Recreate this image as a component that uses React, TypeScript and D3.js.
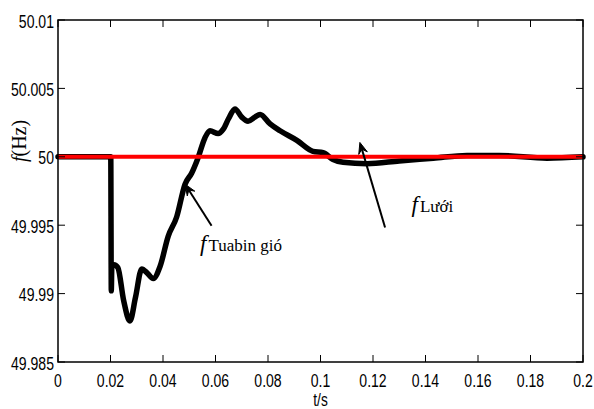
import React from "react";
import * as d3 from "d3";

// Wind-turbine frequency response after the disturbance at t = 0.02 s
const turbineTime = [
  0, 0.0201, 0.0203, 0.0205, 0.0213, 0.0228, 0.025, 0.0274, 0.0295, 0.0319,
  0.034, 0.0363, 0.0389, 0.042, 0.0452, 0.0484, 0.0509, 0.0533, 0.056, 0.0579,
  0.061, 0.0629, 0.065, 0.0674, 0.07, 0.0724, 0.075, 0.077, 0.0808, 0.0846,
  0.091, 0.0971, 0.101, 0.1048, 0.1086, 0.1177, 0.13, 0.143, 0.1558, 0.168,
  0.1863, 0.2,
];
const turbineFreq = [
  50, 50, 49.9902, 49.9919, 49.9921, 49.9919, 49.9895, 49.988, 49.9897, 49.9918,
  49.9915, 49.9911, 49.992, 49.9942, 49.9956, 49.998, 49.9988, 49.9999, 50.0014, 50.0019,
  50.0017, 50.002, 50.0028, 50.0035, 50.0029, 50.0026, 50.0029, 50.0031, 50.0024, 50.0019,
  50.0012, 50.0004, 50.0003, 49.9998, 49.9996, 49.9995, 49.9997, 49.9999, 50.0001, 50.0001,
  49.9999, 50,
];

// Grid frequency stays at nominal
const gridTime = [0, 0.2];
const gridFreq = [50, 50];

const xTicks = [0, 0.02, 0.04, 0.06, 0.08, 0.1, 0.12, 0.14, 0.16, 0.18, 0.2];
const yTicks = [49.985, 49.99, 49.995, 50, 50.005, 50.01];
const yTickLabels = ["49.985", "49.99", "49.995", "50", "50.005", "50.01"];

// Annotation arrows: [tail t, tail f, tip t, tip f]
const turbineArrow = [0.0585, 49.99496, 0.0484, 49.998];
const gridArrow = [0.1246, 49.99483, 0.115, 50.00105];
const turbineLabelPos = [0.0541, 49.99313];
const gridLabelPos = [0.1347, 49.99593];

const W = 594;
const H = 409;
const left = 58;
const right = 583;
const top = 20;
const bottom = 362;

export default function App() {
  const x = d3.scaleLinear().domain([0, 0.2]).range([left, right]);
  const y = d3.scaleLinear().domain([49.985, 50.01]).range([bottom, top]);

  const line = d3
    .line<number>()
    .x((_, i) => x(turbineTime[i]))
    .y((d) => y(d))
    .curve(d3.curveMonotoneX);

  const gridLine = d3
    .line<number>()
    .x((_, i) => x(gridTime[i]))
    .y((d) => y(d));

  const tickFont = "'Liberation Sans', Arial, sans-serif";
  const serif = "'Liberation Serif', 'Times New Roman', serif";
  const tickLen = 7;
  const squeeze = 0.76;

  const arrow = (a: number[]) => {
    const x0 = x(a[0]);
    const y0 = y(a[1]);
    const x1 = x(a[2]);
    const y1 = y(a[3]);
    const ang = Math.atan2(y1 - y0, x1 - x0);
    const L = 12;
    const spread = 0.38;
    const bx1 = x1 - L * Math.cos(ang - spread);
    const by1 = y1 - L * Math.sin(ang - spread);
    const bx2 = x1 - L * Math.cos(ang + spread);
    const by2 = y1 - L * Math.sin(ang + spread);
    const nx = x1 - 7 * Math.cos(ang);
    const ny = y1 - 7 * Math.sin(ang);
    return (
      <g>
        <line x1={x0} y1={y0} x2={nx} y2={ny} stroke="#000" strokeWidth={2} />
        <path
          d={`M${x1},${y1}L${bx1},${by1}L${nx},${ny}L${bx2},${by2}Z`}
          fill="#000"
          stroke="#000"
          strokeWidth={1}
          strokeLinejoin="miter"
        />
      </g>
    );
  };

  return (
    <svg
      width={W}
      height={H}
      style={{ position: "absolute", left: 0, top: 0, background: "#fff" }}
    >
      <rect x={0} y={0} width={W} height={H} fill="#fff" />

      {/* series */}
      <path
        d={line(turbineFreq) || ""}
        fill="none"
        stroke="#000"
        strokeWidth={5.5}
        strokeLinejoin="round"
        strokeLinecap="round"
      />
      <path d={gridLine(gridFreq) || ""} fill="none" stroke="#ff0000" strokeWidth={4} />

      {/* frame */}
      <rect
        x={left}
        y={top}
        width={right - left}
        height={bottom - top}
        fill="none"
        stroke="#000"
        strokeWidth={1.5}
      />

      {/* x ticks */}
      {xTicks.map((t) => (
        <g key={"x" + t}>
          <line x1={x(t)} x2={x(t)} y1={bottom} y2={bottom - tickLen} stroke="#000" strokeWidth={1} />
          <line x1={x(t)} x2={x(t)} y1={top} y2={top + tickLen} stroke="#000" strokeWidth={1} />
          <text
            transform={`translate(${x(t)},${bottom + 25}) scale(${squeeze},1)`}
            textAnchor="middle"
            fontFamily={tickFont}
            fontSize={18.5}
            fill="#000"
          >
            {String(t)}
          </text>
        </g>
      ))}

      {/* y ticks */}
      {yTicks.map((v, i) => (
        <g key={"y" + v}>
          <line x1={left} x2={left + tickLen} y1={y(v)} y2={y(v)} stroke="#000" strokeWidth={1} />
          <line x1={right} x2={right - tickLen} y1={y(v)} y2={y(v)} stroke="#000" strokeWidth={1} />
          <text
            transform={`translate(${left - 4},${y(v) + 7.5}) scale(${squeeze},1)`}
            textAnchor="end"
            fontFamily={tickFont}
            fontSize={18.5}
            fill="#000"
          >
            {yTickLabels[i]}
          </text>
        </g>
      ))}

      {/* axis titles */}
      <text
        transform={`translate(${(left + right) / 2},406) scale(${squeeze},1)`}
        textAnchor="middle"
        fontFamily={tickFont}
        fontSize={18}
        fill="#000"
      >
        t/s
      </text>
      <text
        transform="translate(26,141) rotate(-90)"
        textAnchor="middle"
        fontFamily={serif}
        fontSize={20}
        fill="#000"
      >
        <tspan fontStyle="italic">f</tspan>(Hz)
      </text>

      {/* annotations */}
      {arrow(turbineArrow)}
      {arrow(gridArrow)}
      <text x={x(turbineLabelPos[0])} y={y(turbineLabelPos[1])} fontFamily={serif} fill="#000">
        <tspan fontStyle="italic" fontSize={23}>f</tspan>
        <tspan fontSize={17} dx={2}>Tuabin gió</tspan>
      </text>
      <text x={x(gridLabelPos[0])} y={y(gridLabelPos[1])} fontFamily={serif} fill="#000">
        <tspan fontStyle="italic" fontSize={23}>f</tspan>
        <tspan fontSize={17} dx={2}>Lưới</tspan>
      </text>
    </svg>
  );
}
